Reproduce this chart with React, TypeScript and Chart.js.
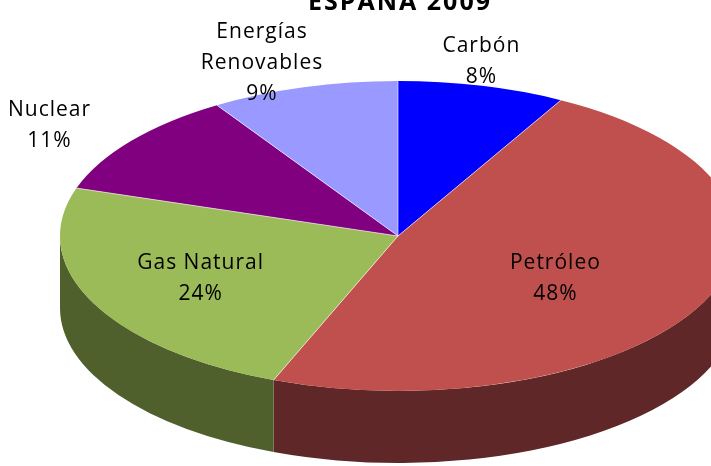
import React, { useEffect, useRef } from 'react';
import { Chart, registerables } from 'chart.js';

Chart.register(...registerables);

const TITLE = 'ESPAÑA 2009';
const categories = ['Carbón', 'Petróleo', 'Gas Natural', 'Nuclear', 'Energías Renovables'];
const values = [8, 48, 24, 11, 9];
const topColors = ['#0000FF', '#C0504D', '#9BBB59', '#800080', '#9999FF'];
const sideColors = ['#00009A', '#5F2727', '#4F602D', '#4D004D', '#5C5C99'];

const W = 711;
const H = 466;
const CX = 398;
const CY = 236;
const RX = 338;
const RY = 155;
const DEPTH = 72;
const LABEL_SHIFT = -20;
const FONT = "'Open Sans', 'DejaVu Sans', sans-serif";

const pie3d = {
  id: 'pie3d',
  beforeDatasetsDraw(chart: any) {
    const ctx = chart.ctx as CanvasRenderingContext2D;
    const arcs = chart.getDatasetMeta(0).data as any[];
    ctx.save();
    arcs.forEach((arc, i) => {
      const s = Math.max(arc.startAngle, 0);
      const e = Math.min(arc.endAngle, Math.PI);
      if (e <= s) return;
      ctx.beginPath();
      ctx.ellipse(CX, CY, RX, RY, 0, s, e, false);
      ctx.lineTo(CX + RX * Math.cos(e), CY + RY * Math.sin(e) + DEPTH);
      ctx.ellipse(CX, CY + DEPTH, RX, RY, 0, e, s, true);
      ctx.closePath();
      ctx.fillStyle = sideColors[i];
      ctx.fill();
    });
    const a0 = arcs[0];
    const r0 = a0.outerRadius;
    ctx.translate(CX, CY);
    ctx.scale(RX / r0, RY / r0);
    ctx.translate(-a0.x, -a0.y);
  },
  afterDatasetsDraw(chart: any) {
    const ctx = chart.ctx as CanvasRenderingContext2D;
    ctx.restore();
    const arcs = chart.getDatasetMeta(0).data as any[];
    ctx.save();
    ctx.strokeStyle = 'rgba(255,255,255,0.6)';
    ctx.lineWidth = 1;
    arcs.forEach((arc) => {
      const a = arc.startAngle;
      ctx.beginPath();
      ctx.moveTo(CX, CY);
      ctx.lineTo(CX + RX * Math.cos(a), CY + RY * Math.sin(a));
      ctx.stroke();
    });
    ctx.restore();
  },
  afterDraw(chart: any) {
    const ctx = chart.ctx as CanvasRenderingContext2D;
    const arcs = chart.getDatasetMeta(0).data as any[];
    const total = values.reduce((a, b) => a + b, 0);
    ctx.save();
    // title
    ctx.fillStyle = '#000';
    ctx.textAlign = 'center';
    ctx.textBaseline = 'alphabetic';
    ctx.font = `bold 25px ${FONT}`;
    (ctx as any).letterSpacing = '2px';
    ctx.fillText(TITLE, 400, 10);
    // labels
    ctx.font = `21px ${FONT}`;
    (ctx as any).letterSpacing = '1px';
    ctx.textBaseline = 'middle';
    const LH = 31;
    arcs.forEach((arc, i) => {
      const mid = (arc.startAngle + arc.endAngle) / 2;
      const pct = Math.round((values[i] / total) * 100);
      const inside = pct >= 20;
      const kx = inside ? 0.58 : 1.23;
      const ky = inside ? 0.64 : 1.16;
      const x = CX + LABEL_SHIFT + RX * kx * Math.cos(mid);
      const y = CY + RY * ky * Math.sin(mid);
      const name = categories[i];
      const nameLines = !inside && name.length > 12 ? name.split(' ') : [name];
      const lines = [...nameLines, pct + '%'];
      const y0 = y - ((lines.length - 1) * LH) / 2;
      lines.forEach((t, j) => ctx.fillText(t, x, y0 + j * LH));
    });
    ctx.restore();
  },
};

export default function App() {
  const ref = useRef<HTMLCanvasElement>(null);
  useEffect(() => {
    document.body.style.margin = '0';
    const chart = new Chart(ref.current as HTMLCanvasElement, {
      type: 'pie',
      data: {
        labels: categories,
        datasets: [
          {
            data: values,
            backgroundColor: topColors,
            borderWidth: 0,
            clip: false as any,
          },
        ],
      },
      options: {
        responsive: false,
        maintainAspectRatio: false,
        devicePixelRatio: 1,
        animation: false,
        events: [],
        layout: { padding: 0 },
        plugins: {
          legend: { display: false },
          tooltip: { enabled: false },
          title: { display: false },
        },
      },
      plugins: [pie3d],
    });
    return () => chart.destroy();
  }, []);
  return (
    <div style={{ position: 'absolute', left: 0, top: 0, width: W, height: H, background: '#fff' }}>
      <canvas ref={ref} width={W} height={H} style={{ display: 'block', width: W, height: H }} />
    </div>
  );
}
